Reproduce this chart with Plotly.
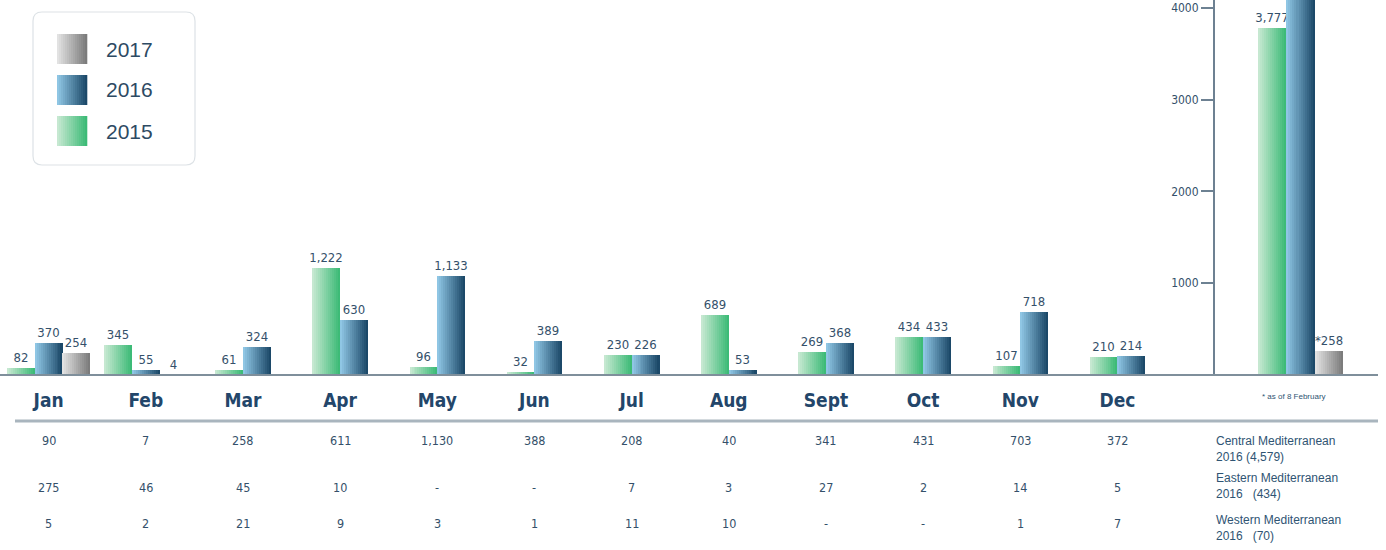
import plotly.graph_objects as go

# ---------------- data ----------------
months = ["Jan", "Feb", "Mar", "Apr", "May", "Jun", "Jul", "Aug", "Sept", "Oct", "Nov", "Dec"]
v2015 = [82, 345, 61, 1222, 96, 32, 230, 689, 269, 434, 107, 210]
v2016 = [370, 55, 324, 630, 1133, 389, 226, 53, 368, 433, 718, 214]
v2017 = [254, 4, None, None, None, None, None, None, None, None, None, None]

total_labels = ["Total"]
total_2015 = [3777]
total_2016 = [5083]   # 4,579 + 434 + 70 (runs off the top of the axis)
total_2017 = [258]

central = [90, 7, 258, 611, 1130, 388, 208, 40, 341, 431, 703, 372]
eastern = [275, 46, 45, 10, None, None, 7, 3, 27, 2, 14, 5]
western = [5, 2, 21, 9, 3, 1, 11, 10, None, None, 1, 7]
route_names = ["Central Mediterranean", "Eastern Mediterranean", "Western Mediterranean"]
route_year = "2016"
route_gap = ["&nbsp;", "&nbsp;&nbsp;&nbsp;", "&nbsp;&nbsp;&nbsp;"]

right_ticks = [1000, 2000, 3000, 4000]
legend_years = ["2017", "2016", "2015"]
footnote = "* as of 8 February"

# ---------------- style ----------------
W, H = 1386, 550
GREEN = ("#c6e8d1", "#3dbb77")
BLUE = ("#8fc6e4", "#1c4969")
GREY = ("#e2e2e2", "#7c7c7c")
LABEL_C = "#34506a"
MONTH_C = "#23466a"
FONT = "DejaVu Sans Condensed, DejaVu Sans, sans-serif"
N_STRIPS = 14


def hex_rgb(h):
    h = h.lstrip("#")
    return tuple(int(h[i:i + 2], 16) for i in (0, 2, 4))


def lerp(c1, c2, t):
    a, b = hex_rgb(c1), hex_rgb(c2)
    return "rgb(%d,%d,%d)" % tuple(round(a[k] + (b[k] - a[k]) * t) for k in range(3))


def px_x(x):
    return x / W


def px_y(y):
    return 1 - y / H


fig = go.Figure()


def gradient_bars(x, y, offsets, width, colors, xa, ya, labels, textpos="outside"):
    step = width / N_STRIPS
    for i in range(N_STRIPS):
        t = i / (N_STRIPS - 1)
        fig.add_trace(go.Bar(
            x=x, y=y, width=step * 1.15,
            offset=[o + i * step for o in offsets],
            marker=dict(color=lerp(colors[0], colors[1], t), line=dict(width=0)),
            xaxis=xa, yaxis=ya, hoverinfo="skip", showlegend=False,
        ))
    # transparent full bar carrying the value label
    fig.add_trace(go.Bar(
        x=x, y=y, width=width, offset=offsets,
        marker=dict(color="rgba(0,0,0,0)", line=dict(width=0)),
        text=labels, textposition=textpos, cliponaxis=False, constraintext="none",
        textfont=dict(family=FONT, size=13, color=LABEL_C),
        xaxis=xa, yaxis=ya, hoverinfo="skip", showlegend=False,
    ))


def fmt(v):
    return "" if v is None else f"{v:,}"


# monthly bars
w = 0.285
has17 = [v is not None for v in v2017]
off15 = [-1.5 * w if h else -w for h in has17]
off16 = [-0.5 * w if h else 0.0 for h in has17]
off17 = [0.5 * w for _ in has17]
gradient_bars(months, v2015, off15, w, GREEN, "x", "y", [fmt(v) for v in v2015])
gradient_bars(months, v2016, off16, w, BLUE, "x", "y", [fmt(v) for v in v2016])
gradient_bars(months, v2017, off17, w, GREY, "x", "y", [fmt(v) for v in v2017])

# totals
w2 = 0.164
gradient_bars(total_labels, total_2015, [-1.5 * w2], w2, GREEN, "x2", "y2", [fmt(v) for v in total_2015])
gradient_bars(total_labels, total_2016, [-0.5 * w2], w2, BLUE, "x2", "y2", [""], textpos="none")
gradient_bars(total_labels, total_2017, [0.5 * w2], w2, GREY, "x2", "y2", ["*" + fmt(v) for v in total_2017])

# ---------------- layout ----------------
ydom = [px_y(375), 1.0]
fig.update_layout(
    width=W, height=H,
    margin=dict(l=0, r=0, t=0, b=0),
    paper_bgcolor="white", plot_bgcolor="rgba(0,0,0,0)",
    barmode="overlay", showlegend=False, bargap=0,
    font=dict(family=FONT, color=LABEL_C),
    xaxis=dict(domain=[0, px_x(1166)], type="category", categoryorder="array",
               categoryarray=months, range=[-0.5, 11.5], showgrid=False,
               showline=False, ticks="", zeroline=False,
               tickfont=dict(family=FONT, size=19, color=MONTH_C, weight="bold"),
               ticklabelstandoff=12),
    yaxis=dict(domain=ydom, range=[0, 4300], visible=False, showgrid=False),
    xaxis2=dict(domain=[px_x(1215), 1.0], type="category", range=[-0.5, 0.5],
                anchor="y2", showticklabels=False, showgrid=False, showline=False,
                ticks="", zeroline=False),
    yaxis2=dict(domain=ydom, range=[0, 4087], anchor="x2", side="left",
                showgrid=False, zeroline=False, showline=True, linecolor="#6d8192",
                linewidth=2, ticks="outside", ticklen=12, tickwidth=1.5,
                tickcolor="#6d8192", tickvals=right_ticks, tickformat="d",
                tickfont=dict(family=FONT, size=12, color=LABEL_C)),
)

shapes = [
    # baseline
    dict(type="line", xref="paper", yref="paper", x0=0, x1=px_x(1378),
         y0=px_y(375), y1=px_y(375), line=dict(color="#7f8f9b", width=2), layer="above"),
    # separator above table
    dict(type="line", xref="paper", yref="paper", x0=px_x(15), x1=px_x(1378),
         y0=px_y(421), y1=px_y(421), line=dict(color="#a9b5be", width=3)),
]

# legend box (rounded)
x0, x1, y0, y1 = px_x(33), px_x(195), px_y(12), px_y(165)
rx, ry = 9 / W, 9 / H
box = (f"M{x0 + rx},{y0} L{x1 - rx},{y0} Q{x1},{y0} {x1},{y0 - ry} "
       f"L{x1},{y1 + ry} Q{x1},{y1} {x1 - rx},{y1} L{x0 + rx},{y1} "
       f"Q{x0},{y1} {x0},{y1 + ry} L{x0},{y0 - ry} Q{x0},{y0} {x0 + rx},{y0} Z")
shapes.append(dict(type="path", xref="paper", yref="paper", path=box,
                   line=dict(color="#dde2e6", width=1.2), fillcolor="white", layer="below"))

annotations = []
legend_colors = {"2017": GREY, "2016": BLUE, "2015": GREEN}
for k, yr in enumerate(legend_years):
    top = 34 + k * 41
    cols = legend_colors[yr]
    n = 15
    for i in range(n):
        shapes.append(dict(type="rect", xref="paper", yref="paper",
                           x0=px_x(57 + i * 2), x1=px_x(57 + (i + 1) * 2 + 0.3),
                           y0=px_y(top), y1=px_y(top + 30),
                           fillcolor=lerp(cols[0], cols[1], i / (n - 1)),
                           line=dict(width=0)))
    annotations.append(dict(x=px_x(104), y=px_y(top + 15), xref="paper", yref="paper",
                            text=yr, showarrow=False, xanchor="left", yanchor="middle",
                            font=dict(family="Liberation Sans, Arial, sans-serif",
                                      size=21, color="#2d4a63")))

# table
rows = [central, eastern, western]
row_y = [441, 487, 523]
for vals, yy in zip(rows, row_y):
    for m, v in zip(months, vals):
        annotations.append(dict(x=m, xref="x", y=px_y(yy), yref="paper",
                                text="-" if v is None else f"{v:,}", showarrow=False,
                                xanchor="center", yanchor="middle",
                                font=dict(family=FONT, size=12.5, color=LABEL_C)))

label_y = [449, 486, 528]
for name, vals, yy, gap in zip(route_names, rows, label_y, route_gap):
    tot = sum(v for v in vals if v is not None)
    annotations.append(dict(x=px_x(1214), y=px_y(yy), xref="paper", yref="paper",
                            text=f"{name}<br>{route_year}{gap}({tot:,})",
                            showarrow=False, xanchor="left", yanchor="middle", align="left",
                            font=dict(family="Liberation Sans, Arial, sans-serif",
                                      size=12, color="#2f5473")))

annotations.append(dict(x=px_x(1260), y=px_y(396), xref="paper", yref="paper",
                        text=footnote, showarrow=False, xanchor="left", yanchor="middle",
                        font=dict(family="Liberation Sans, Arial, sans-serif",
                                  size=8, color="#2f5473")))

fig.update_layout(shapes=shapes, annotations=annotations)
fig.write_html("out.html", config={"displayModeBar": False},
               post_script="document.body.style.margin='0px';")
